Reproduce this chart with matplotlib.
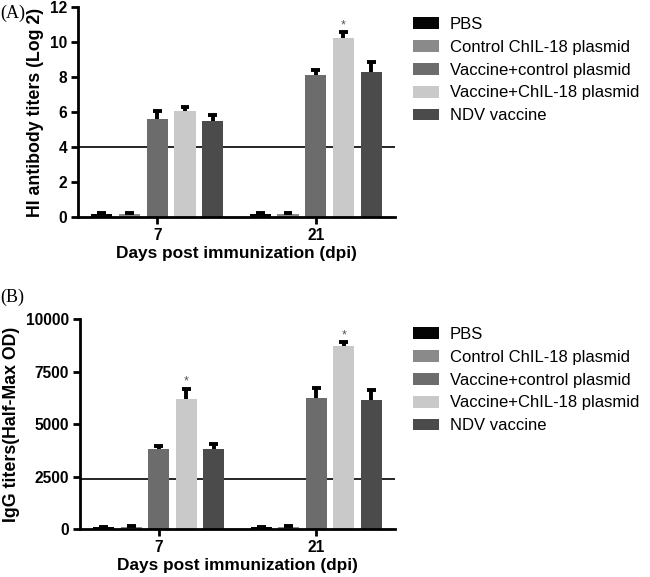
import matplotlib
matplotlib.use("Agg")
import matplotlib.pyplot as plt
import numpy as np

plt.rcParams['font.family'] = ['Liberation Sans', 'DejaVu Sans']

groups = ["PBS", "Control ChIL-18 plasmid", "Vaccine+control plasmid",
          "Vaccine+ChIL-18 plasmid", "NDV vaccine"]
colors = ["#050505", "#8a8a8a", "#6c6c6c", "#c9c9c9", "#4b4b4b"]
days = ["7", "21"]

# Panel A: HI antibody titers (Log 2)
hi_mean = {"7":  [0.15, 0.15, 5.60, 6.05, 5.50],
           "21": [0.15, 0.15, 8.10, 10.25, 8.30]}
hi_err = {"7":  [0.05, 0.05, 0.45, 0.22, 0.30],
          "21": [0.05, 0.05, 0.28, 0.33, 0.55]}
hi_cutoff = 4.0

# Panel B: IgG titers (Half-Max OD)
igg_mean = {"7":  [90, 110, 3810, 6200, 3800],
            "21": [90, 110, 6240, 8720, 6150]}
igg_err = {"7":  [30, 50, 160, 500, 240],
           "21": [30, 50, 500, 180, 500]}
igg_cutoff = 2400

star_A = {"21": 3}
star_B = {"7": 3, "21": 3}

fig = plt.figure(figsize=(6.5, 5.77), dpi=100)

def panel(rect, means, errs, cutoff, ylim, yticks, ylabel, stars, star_off, letter, letter_y, leg_y):
    ax = fig.add_axes(rect)
    x = np.arange(len(days))
    step = 0.175
    width = 0.133
    cap = 0.028
    for i, g in enumerate(groups):
        vals = np.array([means[d][i] for d in days])
        ers = np.array([errs[d][i] for d in days])
        xs = x + (i - 2) * step
        ax.bar(xs, vals, width=width, color=colors[i], label=g, zorder=2,
               edgecolor='none')
        ax.vlines(xs, vals, vals + ers, color='black', lw=2.8, zorder=3)
        ax.hlines(vals + ers, xs - cap, xs + cap, color='black', lw=2.8, zorder=3)
    for d, i in stars.items():
        j = days.index(d)
        xs = j + (i - 2) * step
        top = means[d][i] + errs[d][i]
        ax.text(xs, top + star_off, "*", ha='center', va='bottom',
                fontsize=9, color='#555555')
    ax.axhline(cutoff, color='black', lw=1.2, zorder=1)
    ax.set_xlim(-0.5, 1.5)
    ax.set_ylim(*ylim)
    ax.set_yticks(yticks)
    ax.set_xticks(x)
    ax.set_xticklabels(days)
    for s in ['top', 'right']:
        ax.spines[s].set_visible(False)
    for s in ['left', 'bottom']:
        ax.spines[s].set_linewidth(2)
    ax.tick_params(axis='both', width=2, length=5, labelsize=11.2, pad=3)
    for lab in ax.get_xticklabels() + ax.get_yticklabels():
        lab.set_fontweight('bold')
    ax.set_ylabel(ylabel, fontsize=12.8, fontweight='bold', labelpad=4)
    ax.set_xlabel("Days post immunization (dpi)", fontsize=12.4, fontweight='bold', labelpad=2)
    fig.text(0.0, letter_y, letter, fontsize=13, family='Liberation Serif', va='center')
    ax.legend(loc='upper left', bbox_to_anchor=(413 / 650, leg_y),
              bbox_transform=fig.transFigure, frameon=False, fontsize=12,
              handlelength=1.55, handleheight=0.72, labelspacing=0.47,
              handletextpad=0.66, borderpad=0, borderaxespad=0)
    return ax

panel([78 / 650, 1 - 217 / 577, 317 / 650, 210 / 577], hi_mean, hi_err, hi_cutoff,
      (0, 12), [0, 2, 4, 6, 8, 10, 12], "HI antibody titers (Log 2)",
      star_A, 0.05, "(A)", 1 - 13 / 577, 1 - 17 / 577)
panel([80 / 650, 1 - 529.3 / 577, 315 / 650, 210 / 577], igg_mean, igg_err, igg_cutoff,
      (0, 10000), [0, 2500, 5000, 7500, 10000], "IgG titers(Half-Max OD)",
      star_B, 40, "(B)", 1 - 297 / 577, 1 - 327 / 577)

fig.savefig("out.png", dpi=100)
